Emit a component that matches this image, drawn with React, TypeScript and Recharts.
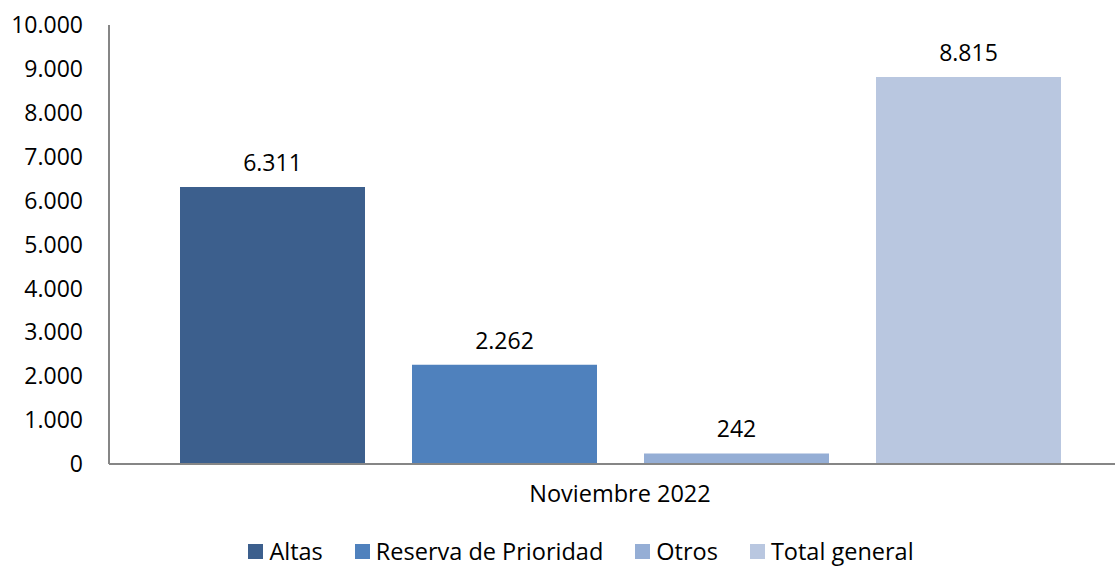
import React from 'react';
import { BarChart, Bar, XAxis, YAxis, Legend, LabelList } from 'recharts';

const categories = ['Noviembre 2022'];
const altas = [6311];
const reserva = [2262];
const otros = [242];
const total = [8815];
const yTicks = [0, 1000, 2000, 3000, 4000, 5000, 6000, 7000, 8000, 9000, 10000];

const seriesDefs = [
  { key: 'altas', name: 'Altas', color: '#3C5F8D', values: altas },
  { key: 'reserva', name: 'Reserva de Prioridad', color: '#4F81BD', values: reserva },
  { key: 'otros', name: 'Otros', color: '#95AED5', values: otros },
  { key: 'total', name: 'Total general', color: '#B9C7E0', values: total },
];

const data = categories.map((c, i) => {
  const row: any = { category: c };
  seriesDefs.forEach((s) => { row[s.key] = s.values[i]; });
  return row;
});

const fmt = (v: any) => String(v).replace(/\B(?=(\d{3})+(?!\d))/g, '.');
const FONT = '"Open Sans", sans-serif';

const renderLegend = () => (
  <div style={{ display: 'flex', justifyContent: 'center', alignItems: 'center', fontFamily: FONT, fontSize: 23.5, color: '#000' }}>
    {seriesDefs.map((s) => (
      <div key={s.key} style={{ display: 'flex', alignItems: 'center', marginRight: 32 }}>
        <div style={{ width: 15, height: 15, background: s.color, marginRight: 6 }} />
        <span>{s.name}</span>
      </div>
    ))}
  </div>
);

export default function App() {
  return (
    <div style={{ position: 'absolute', left: 0, top: 0, width: 1116, height: 567, background: '#fff' }}>
      <BarChart
        width={1116}
        height={567}
        data={data}
        margin={{ top: 25, right: 1, bottom: 53, left: 0 }}
        barCategoryGap={55}
        barGap={47}
      >
        <XAxis
          dataKey="category"
          axisLine={{ stroke: '#868686', strokeWidth: 2 }}
          tickLine={false}
          tickSize={0}
          tickMargin={21}
          height={50}
          padding={{ left: 16, right: 0 }}
          tick={{ fill: '#000', fontSize: 23.5, fontFamily: FONT }}
        />
        <YAxis
          width={109}
          domain={[0, 10000]}
          ticks={yTicks}
          interval={0}
          tickFormatter={fmt}
          axisLine={{ stroke: '#868686', strokeWidth: 2 }}
          tickLine={false}
          tickSize={0}
          tickMargin={26}
          tick={{ fill: '#000', fontSize: 23, fontFamily: FONT }}
        />
        <Legend
          verticalAlign="middle"
          layout="horizontal"
          content={renderLegend}
          wrapperStyle={{ top: 535, left: 64, width: 1066 }}
        />
        {seriesDefs.map((s) => (
          <Bar key={s.key} dataKey={s.key} name={s.name} fill={s.color} isAnimationActive={false}>
            <LabelList
              dataKey={s.key}
              position="top"
              offset={16}
              formatter={fmt}
              style={{ fill: '#000', fontSize: 23, fontFamily: FONT }}
            />
          </Bar>
        ))}
      </BarChart>
    </div>
  );
}
